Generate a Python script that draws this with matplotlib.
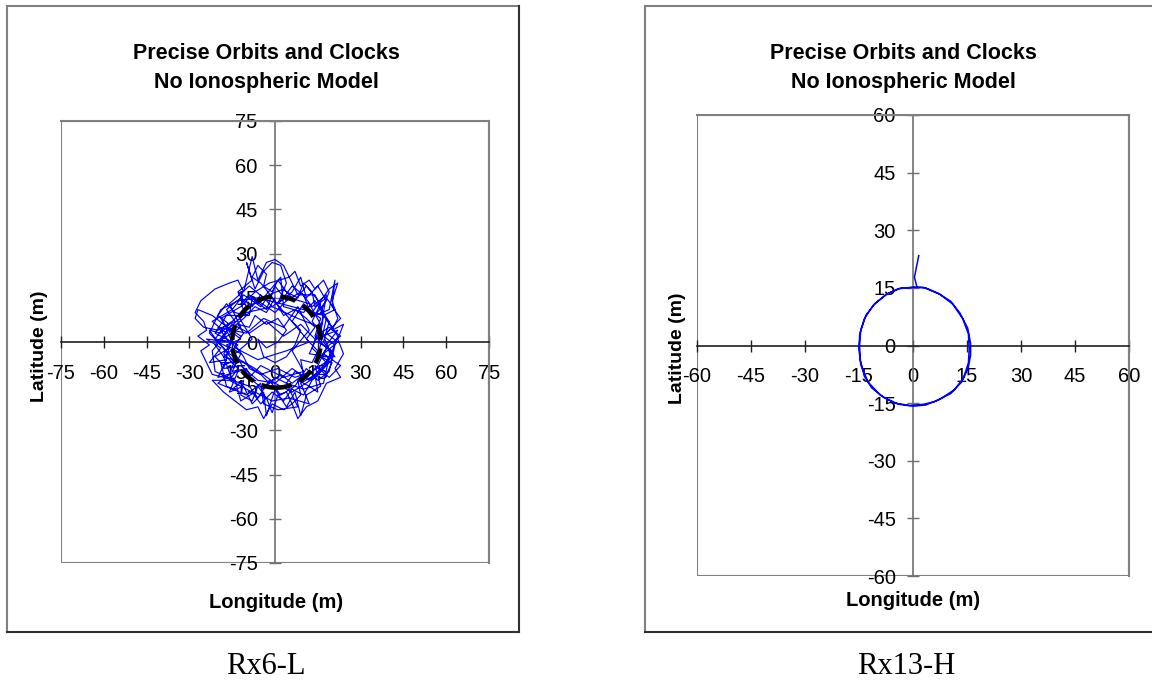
import matplotlib
matplotlib.use("Agg")
import matplotlib.pyplot as plt
import matplotlib.patches as mpatches
from matplotlib.lines import Line2D

plt.rcParams['font.family'] = ['Liberation Sans', 'DejaVu Sans']
plt.rcParams['axes.unicode_minus'] = False

# ---- data -------------------------------------------------------------
title_text = "Precise Orbits and Clocks\nNo Ionospheric Model"
xlabel_text = "Longitude (m)"
ylabel_text = "Latitude (m)"
captions = ["Rx6-L", "Rx13-H"]

ticks_rx6 = [-75, -60, -45, -30, -15, 0, 15, 30, 45, 60, 75]
ticks_rx13 = [-60, -45, -30, -15, 0, 15, 30, 45, 60]

# Rx6-L position track (m), read by eye from the tangle
lon_rx6 = [-12, -18, -22, -27, -28, -25, -20, -15, -10, -13, -8, -10, -7, -4, -1, 2, 4, 1, 6, 9,
           11, 15, 18, 14, 19, 21, 20, 23, 18, 22, 17, 23, 19, 14, 16, 11, 9, 7, 4, 0,
           -3, -4, -8, -11, -16, -13, -20, -17, -23, -19, -24, -16, -20, -10, -4, 3, 8, 12, 6, 10,
           3, -5, -9, -14, -8, -13, -6, 0, 5, 12, 16, 13, 18, 12, 6, 0, -6, -12, -18, -15,
           -19, -12, -7, -2, 5, 8, 14, 17, 20, 15, 20, 16, 9, 12, 5, -1, -7, -12, -14, -21,
           -22, -17, -22, -15, -11, -5, -2, 3, 7, 11, 16, 13, 17, 21, 19, 15, 11, 7, 2, -2,
           -6, -9, -15, -18, -13, -21, -17, -9, -8, -3, 0, 4, 9, 13, 18, 16, 12, 19, 17, 10,
           4, 8, 1, -4, -5, -10, -17, -19, -14, -20, -12, -16, -9, -4, 2, 3, 10, 14, 18, 15,
           21, 18, 22, 14, 9, 3, -3, -9, -15, -21, -18, -11, -5, 1, 7, 13, 19, 22, 17, 10,
           2, -6, -13, -19, -23, -16, -7, 0, 6, 14, 20, 16, 8, -1, -10, -17, -14, -6, 4, 12,
           -2, -6, -9, -12, -10, -14, -17, -20, -16, -19, -23, -20, -16, -21, -18, -14, -16, -20, -15, -11,
           -12, -8, -6, -3, -1, 1, 4, 6, 9, 8, 12, 15, 14, 18, 20, 16, 19, 23, 19, 16,
           17, 21, 18, 14, 13, 10, 8, 4, 1, -1, -4, -3, -6, -8, -5, 0, 3, 7, 11, 14,
           11, 15, 13, 9, 10, 6, 2, -2, -5, -9, -11, -14, -11, -13, -9, -7, -3, 1, 4, 1,
           -3, -6, -4, 0, 4, 7, 9, 6, 10, 13, 16, 19, 22, 20, 22, 20, 24, 22, 24, 21,
           23, 18, 15, 11, 8, 6, 3, -1, -4, -6, -10, -14, -18, -22, -14, -22, -24, -26, -23, -27,
           -24, -25, -28, -26, -21, -16, -13, -11, -9, -8, -6, -3, 0, 3, 5, 7, 9, 12, 14, 17,
           19, 16, 19, 17, 20, 17, 13, 10, 6, 3, -1, -5, -8, -12, -16, -13, -18, -15, -21, -18,
           -14, -17, -12, -8, -5, -1, 3, 6, 10, 12, 16, 14, 18, 15, 11, 7, 4, 0, -4, -8,
           -10, -15, -12, -17, -12, -16, -11, -7, -3, 0]
lat_rx6 = [2, 6, 9, 11, 8, 5, 4, 7, 12, 17, 21, 27, 18, 24, 27, 26, 20, 13, 17, 22,
           15, 19, 14, 9, 11, 21, 12, 8, 3, 0, -4, -8, -12, -8, -15, -18, -25, -17, -22, -16,
           -25, -17, -21, -15, -17, -10, -12, -6, -7, -2, 1, 0, 5, 3, 8, 5, 12, 4, -3, -10,
           -12, -8, -12, -4, 1, 9, 14, 10, 15, 13, 6, -2, -7, -13, -9, -14, -13, -8, -9, 2,
           8, 12, 17, 20, 22, 16, 16, 10, 5, 0, -3, -10, -14, -21, -19, -20, -17, -20, -13, -10,
           -3, 3, 7, 11, 16, 12, 16, 18, 14, 19, 13, 7, 2, -1, -10, -13, -9, -15, -18, -13,
           -19, -15, -13, -5, -1, 3, 9, 9, 15, 11, 19, 14, 17, 12, 16, 4, -4, -5, -14, -16,
           -14, -22, -23, -21, -14, -18, -15, -7, -7, 0, 5, 13, 19, 15, 22, 12, 10, 14, 8, -5,
           -5, -1, 4, 1, 6, 2, 7, 3, 6, -1, -5, -7, -11, -9, -12, -10, -6, 2, 9, 11,
           13, 15, 14, 11, 3, -4, -9, -14, -17, -12, -6, 5, 8, 12, 10, 4, -2, -6, -3, 0,
           16, 13, 16, 13, 9, 10, 13, 9, 6, 3, 4, 0, -2, -5, -8, -6, -11, -14, -16, -13,
           -18, -20, -15, -19, -24, -18, -17, -21, -18, -13, -15, -17, -11, -11, -7, -5, -1, 2, 5, 3,
           9, 11, 15, 12, 17, 20, 15, 17, 21, 17, 19, 23, 26, 22, 20, 14, 9, 11, 8, 5,
           1, -3, -7, -6, -11, -14, -11, -14, -11, -9, -5, -1, 3, 6, 5, 9, 6, 8, 4, 0,
           -2, 1, -5, -7, -5, -1, 4, 7, 13, 10, 14, 18, 20, 14, 8, 4, 6, 1, -4, -9,
           -12, -14, -20, -22, -26, -21, -23, -21, -26, -22, -23, -20, -17, -13, -13, -11, -7, -3, -1, 2,
           4, 7, 10, 14, 18, 20, 21, 17, 25, 29, 21, 27, 28, 26, 22, 24, 19, 21, 18, 21,
           17, 10, 7, 0, -4, -9, -13, -18, -16, -20, -17, -21, -17, -15, -13, -9, -4, 0, 1, 5,
           7, 11, 15, 12, 16, 12, 15, 19, 16, 11, 8, 2, -2, -8, -12, -10, -14, -12, -16, -13,
           -9, -10, -4, -1, 1, 4, 8, 12, 10, 15]

# Rx13-H position track (m)
lon_rx13 = [1.6, 0.4, 1.1, 3.5, 7.0, 10.5, 13.0, 15.2, 16.0, 16.0, 15.3, 13.5, 10.5, 6.0, 3.0,
            -1.0, -5.0, -9.0, -12.5, -14.5, -15.0, -14.8, -13.5, -11.0, -7.5, -4.0, 0.0, 3.0,
            7.5, 11.0, 13.8, 15.4, 15.6, 15.4, 14.0, 11.5, 7.5, 3.5, 0.0, -4.0, -8.0, -11.5,
            -13.5, -14.6, -14.9, -14.5, -13.0, -10.5, -7.0, -3.5, 0.5]
lat_rx13 = [23.4, 17.8, 15.2, 15.0, 13.6, 11.5, 8.5, 4.5, 0.5, -2.5, -6.0, -9.5, -12.5, -14.6, -15.3,
            -15.6, -15.0, -13.0, -9.5, -5.0, -1.0, 3.0, 7.0, 10.5, 13.3, 14.8, 15.1, 15.1,
            13.3, 10.8, 7.0, 3.0, -1.0, -4.5, -8.5, -11.5, -14.0, -15.5, -15.8, -15.3, -13.6, -11.0,
            -8.0, -4.0, 0.0, 4.0, 8.0, 11.0, 13.5, 14.9, 15.2]

# dashed reference circle on Rx6-L (centre and radius, m)
ref_centre = (0.5, 0.0)
ref_radius = 15.5

# ---- figure -----------------------------------------------------------
W, H = 1152, 683
fig = plt.figure(figsize=(W / 100.0, H / 100.0), dpi=100)

def fx(px):
    return px / float(W)

def fy(py):
    return 1.0 - py / float(H)

# outer chart boxes (pixel coords: left, top, right, bottom)
for l, t, r, b in [(7, 6, 519, 632), (645, 6, 1160, 632)]:
    fig.add_artist(Line2D([fx(l), fx(r)], [fy(t), fy(t)], color='#808080', lw=1.5))
    fig.add_artist(Line2D([fx(l), fx(l)], [fy(t), fy(b)], color='#808080', lw=1.5))
    fig.add_artist(Line2D([fx(r), fx(r)], [fy(t), fy(b)], color='#303030', lw=1.5))
    fig.add_artist(Line2D([fx(l), fx(r)], [fy(b), fy(b)], color='#303030', lw=1.5))


def make_panel(rect, ticks, lon, lat, lw, title_x, ylab_x, ylab_y, xlab_x, xlab_y, cap_x, caption):
    ax = fig.add_axes(rect)
    lim = ticks[-1]
    ax.set_xlim(-lim, lim)
    ax.set_ylim(-lim, lim)
    ax.plot(lon, lat, color='#0000ff', lw=lw, zorder=3)

    for s in ['top', 'right']:
        ax.spines[s].set_color('#808080')
        ax.spines[s].set_linewidth(1.5)
    ax.add_patch(mpatches.Rectangle((0, 0), 1, 1, transform=ax.transAxes, fill=False,
                                    edgecolor='#808080', lw=1.5, zorder=1))
    ax.spines['left'].set_position(('data', 0))
    ax.spines['bottom'].set_position(('data', 0))
    ax.spines['left'].set_color('#707070')
    ax.spines['bottom'].set_color('#202020')
    ax.spines['left'].set_linewidth(1.2)
    ax.spines['bottom'].set_linewidth(1.2)

    ax.set_xticks(ticks)
    ax.set_yticks(ticks)
    ax.tick_params(axis='x', direction='inout', length=9, width=1, color='#202020',
                   labelsize=14.5, pad=11)
    ax.tick_params(axis='y', direction='inout', length=9, width=1, color='#707070',
                   labelsize=14.5, pad=8)

    fig.text(fx(title_x), fy(68), title_text, ha='center', va='center', fontsize=15.5,
             fontweight='bold', linespacing=1.45)
    fig.text(fx(ylab_x), fy(ylab_y), ylabel_text, ha='center', va='center', rotation=90,
             fontsize=14, fontweight='bold')
    fig.text(fx(xlab_x), fy(xlab_y), xlabel_text, ha='center', va='center', fontsize=14.5,
             fontweight='bold')
    fig.text(fx(cap_x), fy(667), caption, ha='center', va='center', fontsize=22,
             family='Liberation Serif')
    return ax


ax1 = make_panel([fx(61), fy(563), fx(489) - fx(61), fy(121) - fy(563)], ticks_rx6,
                 lon_rx6, lat_rx6, 0.85, 266, 40, 346, 276, 603, 266, captions[0])
ax1.add_patch(mpatches.Circle(ref_centre, ref_radius, fill=False, edgecolor='black', lw=3.3,
                              linestyle=(0, (3.4, 1.9)), zorder=4))

ax2 = make_panel([fx(697), fy(576), fx(1129) - fx(697), fy(115) - fy(576)], ticks_rx13,
                 lon_rx13, lat_rx13, 1.1, 903, 677, 348, 913, 600, 906, captions[1])

fig.savefig("out.png", dpi=100)
